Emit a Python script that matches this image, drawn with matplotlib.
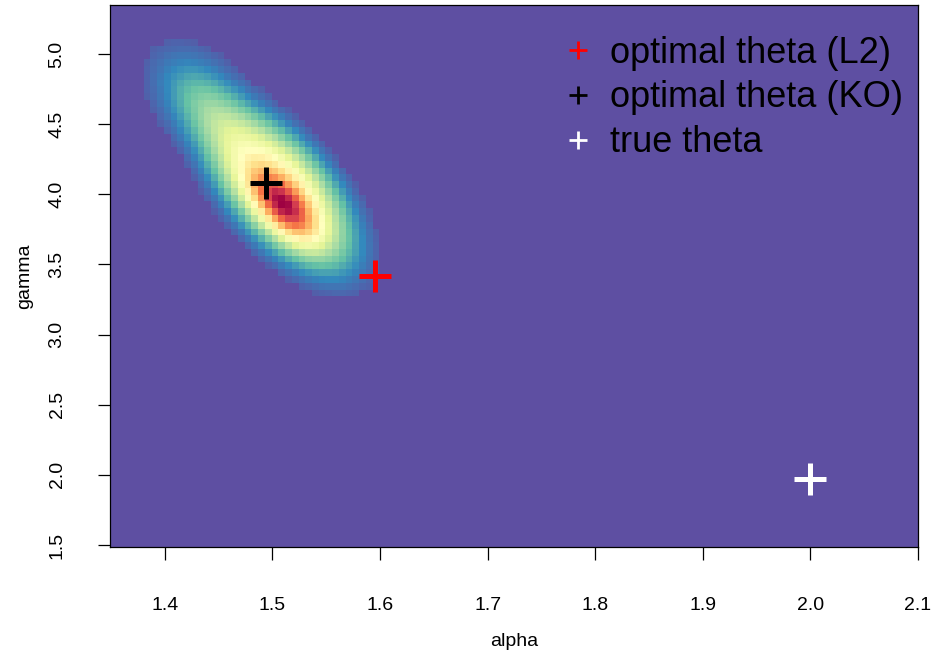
import matplotlib
matplotlib.use("Agg")
import matplotlib.pyplot as plt
from matplotlib.lines import Line2D
import numpy as np

plt.rcParams["font.family"] = ["Liberation Sans", "DejaVu Sans"]

# axis ranges of the image grid
alpha_range = [1.349, 2.1]
gamma_range = [1.486, 5.35]
n_alpha, n_gamma = 120, 80

# density blob: main body, upper-left tail, sharp mode
# (centre, spread along / across the ridge, height, shape exponent)
comp_alpha = [1.507, 1.435, 1.510]
comp_gamma = [4.03, 4.66, 3.93]
comp_major = [0.47, 0.27, 0.20]
comp_minor = [0.23, 0.17, 0.10]
comp_height = [0.50, 0.19, 0.50]
comp_power = [1.5, 1.0, 1.0]
ridge_dir = [0.66, -0.75]
alpha_scale = 7.63
cutoff = 0.03

# point estimates
theta_l2 = [1.595, 3.42]
theta_ko = [1.494, 4.08]
theta_true = [2.0, 1.97]
legend_labels = ["optimal theta (L2)", "optimal theta (KO)", "true theta"]
legend_colors = ["red", "black", "white"]

a_edges = np.linspace(alpha_range[0], alpha_range[1], n_alpha + 1)
g_edges = np.linspace(gamma_range[0], gamma_range[1], n_gamma + 1)
a_mid = (a_edges[:-1] + a_edges[1:]) / 2
g_mid = (g_edges[:-1] + g_edges[1:]) / 2
A, G = np.meshgrid(a_mid, g_mid)

z = np.zeros_like(A)
for a0, g0, sm, sn, h, p in zip(comp_alpha, comp_gamma, comp_major, comp_minor,
                                comp_height, comp_power):
    dx = (A - a0) * alpha_scale
    dy = G - g0
    u = dx * ridge_dir[0] + dy * ridge_dir[1]
    v = -dx * ridge_dir[1] + dy * ridge_dir[0]
    r2 = (u / sm) ** 2 + (v / sn) ** 2
    z += h * np.exp(-(r2 / 2) ** p)
z[z < cutoff] = 0
z = z / z.max()

fig = plt.figure(figsize=(9.32, 6.55), dpi=100)
ax = fig.add_axes([110 / 932, 108 / 655, 808 / 932, 542 / 655])

ax.pcolormesh(a_edges, g_edges, z, cmap="Spectral_r", vmin=0, vmax=1, shading="flat")

ms, mw = 23, 3.6
ax.plot(*theta_l2, marker="+", color="red", ms=ms, mew=mw)
ax.plot(*theta_ko, marker="+", color="black", ms=ms, mew=mw)
ax.plot(*theta_true, marker="+", color="white", ms=ms, mew=mw)

ax.set_xlim(alpha_range)
ax.set_ylim(gamma_range)
ax.set_xticks([1.4, 1.5, 1.6, 1.7, 1.8, 1.9, 2.0, 2.1])
ax.set_yticks([1.5, 2.0, 2.5, 3.0, 3.5, 4.0, 4.5, 5.0])
ax.set_xticklabels(["1.4", "1.5", "1.6", "1.7", "1.8", "1.9", "2.0", "2.1"])
ax.set_yticklabels(["1.5", "2.0", "2.5", "3.0", "3.5", "4.0", "4.5", "5.0"],
                   rotation=90, va="center")
ax.tick_params(length=9, width=0.9, labelsize=14)
ax.tick_params(axis="x", pad=27)
ax.tick_params(axis="y", pad=23)
ax.set_xlabel("alpha", fontsize=14, labelpad=14)
ax.set_ylabel("gamma", fontsize=14, labelpad=11)
for s in ax.spines.values():
    s.set_linewidth(0.9)

handles = [Line2D([], [], ls="none", marker="+", color=c, ms=13, mew=2)
           for c in legend_colors]
ax.legend(handles, legend_labels, loc="upper right", bbox_to_anchor=(1.02, 1.0),
          frameon=False, fontsize=26, handlelength=1.0, handletextpad=0.4,
          labelspacing=0.27, borderaxespad=0.45)

fig.savefig("out.png", dpi=100)
